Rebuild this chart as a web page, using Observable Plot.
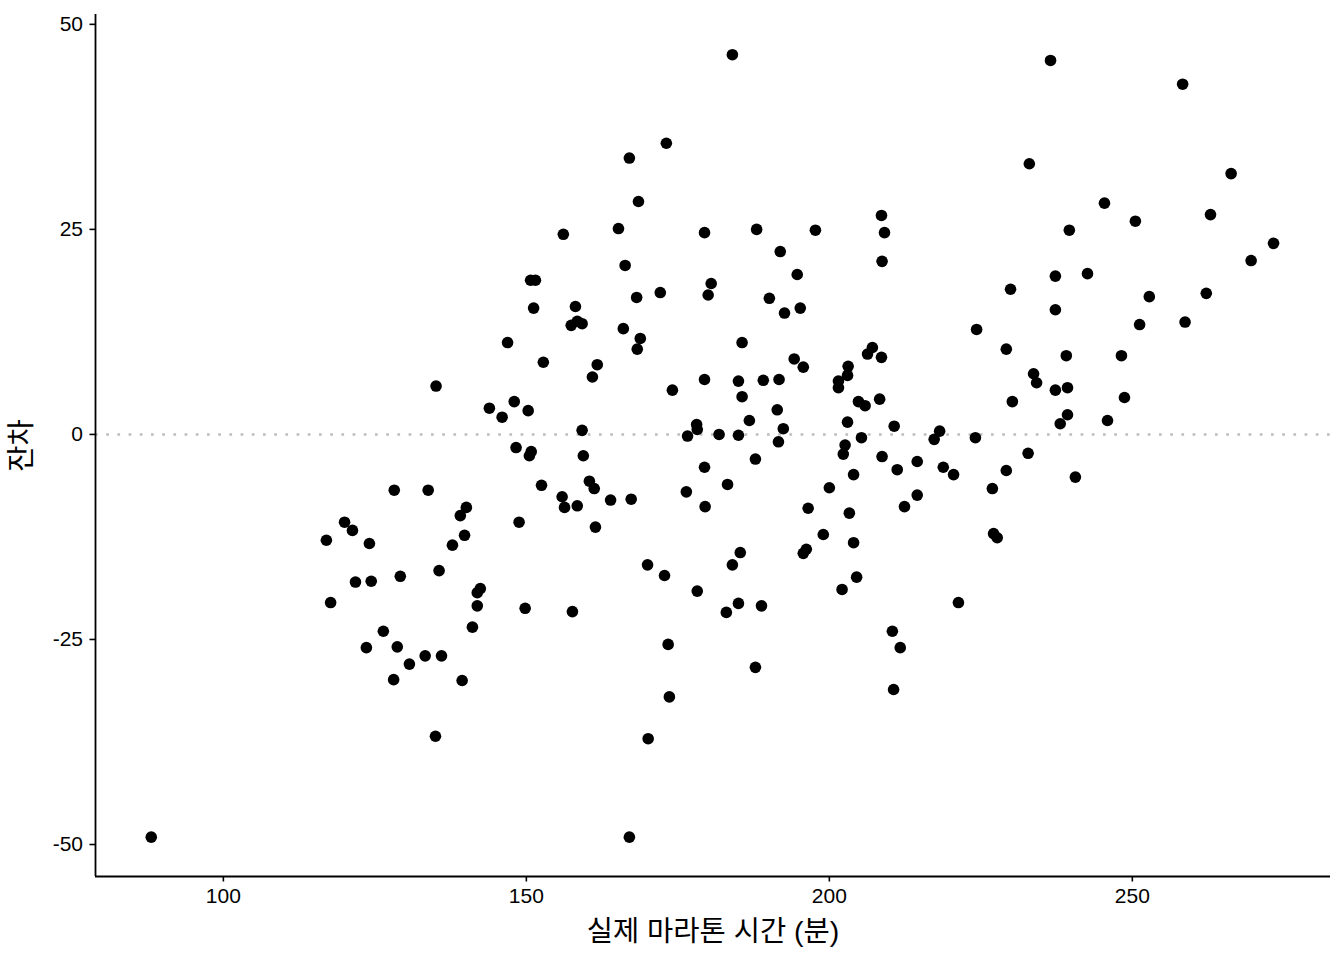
<!DOCTYPE html>
<html>
<head>
<meta charset="utf-8">
<script src="https://cdn.jsdelivr.net/npm/d3@7"></script>
<script src="https://cdn.jsdelivr.net/npm/@observablehq/plot@0.6"></script>
<style>
  html, body { margin: 0; padding: 0; background: #fff; }
  #chart { width: 1344px; height: 960px; }
</style>
</head>
<body>
<div id="chart"></div>
<script>
// Actual marathon time (minutes)
const actualTime = [
  88.1,
  117.0,117.7,120.0,121.3,121.8,123.6,124.1,124.4,126.4,128.1,128.2,128.7,129.2,130.7,133.3,133.8,135.0,135.1,135.6,136.0,137.8,139.1,139.4,139.8,140.1,141.1,141.9,141.9,142.4,
  143.9,146.0,148.0,150.3,148.3,150.8,150.5,152.5,148.8,149.8,146.9,150.7,151.5,151.2,152.8,
  184.0,173.1,167.0,168.5,156.1,165.2,179.4,188.0,191.9,166.3,194.7,180.5,180.0,168.2,172.1,190.1,195.2,192.6,158.1,157.4,158.4,159.2,166.0,168.8,168.3,185.6,194.2,161.7,
  160.9,174.1,179.4,185.0,189.1,191.7,185.6,191.4,186.8,178.1,178.2,176.6,181.8,185.0,192.4,191.6,159.2,159.4,179.4,187.8,160.4,161.2,183.2,176.4,155.9,156.3,158.4,163.9,167.3,179.5,161.4,185.3,184.0,170.0,172.8,178.2,
  157.6,183.0,185.0,188.8,173.4,187.8,173.6,170.1,167.0,
  197.7,208.6,209.1,208.7,195.7,203.1,203.0,201.5,201.5,207.1,206.3,208.6,204.8,205.9,208.3,203.0,210.7,205.3,202.6,218.2,217.3,224.1,229.9,224.3,229.2,233.7,234.2,230.2,232.8,
  202.3,208.7,211.2,214.5,218.8,220.5,229.2,226.9,204.0,200.0,196.5,203.3,214.5,212.4,199.0,204.0,196.2,195.7,227.1,227.7,204.5,202.1,221.3,210.4,211.7,210.6,
  233.0,
  236.5,258.3,266.3,245.4,262.9,250.5,239.6,273.3,269.6,237.3,242.6,237.3,252.8,262.2,251.2,258.7,239.1,248.2,237.3,239.3,248.7,239.3,238.1,245.9,240.6
];
// Residuals
const residual = [
  -49.1,
  -12.9,-20.5,-10.7,-11.7,-18.0,-26.0,-13.3,-17.9,-24.0,-29.9,-6.8,-25.9,-17.3,-28.0,-27.0,-6.8,-36.8,5.9,-16.6,-27.0,-13.5,-9.9,-30.0,-12.3,-8.9,-23.5,-20.9,-19.3,-18.8,
  3.2,2.1,4.0,2.9,-1.6,-2.1,-2.6,-6.2,-10.7,-21.2,11.2,18.8,18.8,15.4,8.8,
  46.3,35.5,33.7,28.4,24.4,25.1,24.6,25.0,22.3,20.6,19.5,18.4,17.0,16.7,17.3,16.6,15.4,14.8,15.6,13.3,13.8,13.5,12.9,11.7,10.4,11.2,9.2,8.5,
  7.0,5.4,6.7,6.5,6.6,6.7,4.6,3.0,1.7,1.2,0.6,-0.2,0.0,-0.1,0.7,-0.9,0.5,-2.6,-4.0,-3.0,-5.7,-6.6,-6.1,-7.0,-7.6,-8.9,-8.7,-8.0,-7.9,-8.8,-11.3,-14.4,-15.9,-15.9,-17.2,-19.1,
  -21.6,-21.7,-20.6,-20.9,-25.6,-28.4,-32.0,-37.1,-49.1,
  24.9,26.7,24.6,21.1,8.2,8.3,7.2,6.5,5.7,10.6,9.8,9.4,4.0,3.5,4.3,1.5,1.0,-0.4,-1.3,0.4,-0.6,-0.4,17.7,12.8,10.4,7.4,6.3,4.0,-2.3,
  -2.4,-2.7,-4.3,-3.3,-4.0,-4.9,-4.4,-6.6,-4.9,-6.5,-9.0,-9.6,-7.4,-8.8,-12.2,-13.2,-14.0,-14.5,-12.1,-12.6,-17.4,-18.9,-20.5,-24.0,-26.0,-31.1,
  33.0,
  45.6,42.7,31.8,28.2,26.8,26.0,24.9,23.3,21.2,19.3,19.6,15.2,16.8,17.2,13.4,13.7,9.6,9.6,5.4,5.7,4.5,2.4,1.3,1.7,-5.2
];
const xTicks = [100, 150, 200, 250];
const yTicks = [-50, -25, 0, 25, 50];
const xDomain = [78.9, 282.7];
const yDomain = [-53.9, 51.2];
const referenceLine = [0];
const xTitle = "실제 마라톤 시간 (분)";
const yTitle = "잔차";

const data = actualTime.map((t, i) => ({time: t, resid: residual[i]}));

const font = "'Liberation Sans', Arial, 'Noto Sans CJK KR', sans-serif";
const fmt = d => String(d);

const chart = Plot.plot({
  width: 1344,
  height: 960,
  marginLeft: 95,
  marginRight: 14,
  marginTop: 14,
  marginBottom: 84,
  style: {fontFamily: font, background: "#fff"},
  x: {domain: xDomain},
  y: {domain: yDomain},
  marks: [
    Plot.ruleY(referenceLine, {stroke: "#bdbdbd", strokeWidth: 2.6, strokeDasharray: "2.7,8.5"}),
    Plot.dot(data, {x: "time", y: "resid", r: 5.8, fill: "#000", stroke: null}),
    Plot.ruleX([xDomain[0]], {stroke: "#000", strokeWidth: 1.8}),
    Plot.ruleY([yDomain[0]], {stroke: "#000", strokeWidth: 1.8}),
    Plot.axisX({ticks: xTicks, tickFormat: fmt, tickSize: 5.5, tickPadding: 6, fontSize: 21, stroke: "#000", strokeWidth: 1.6, color: "#000", label: null}),
    Plot.axisY({ticks: yTicks, tickFormat: fmt, tickSize: 5.5, tickPadding: 7, fontSize: 21, stroke: "#000", strokeWidth: 1.6, color: "#000", label: null}),
    Plot.text([xTitle], {frameAnchor: "bottom", dy: 55, fontSize: 28.5, fill: "#000", lineAnchor: "middle"}),
    Plot.text([yTitle], {frameAnchor: "left", dx: -74, rotate: -90, textAnchor: "middle", fontSize: 28.5, fill: "#000", lineAnchor: "middle"})
  ]
});
document.getElementById("chart").appendChild(chart);
</script>
</body>
</html>
